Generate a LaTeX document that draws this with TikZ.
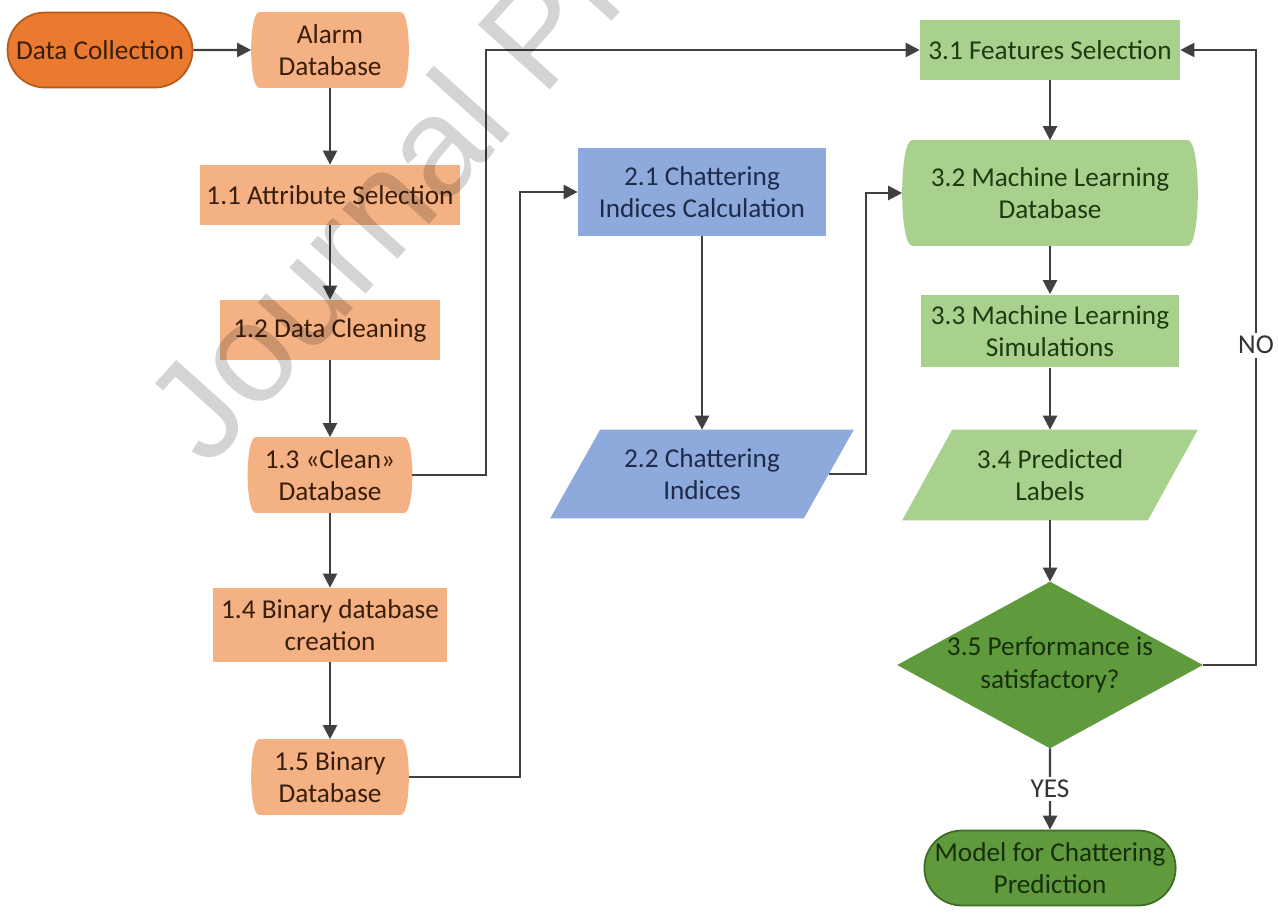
\documentclass[tikz,border=0pt]{standalone}
\usepackage{fontspec}
\setmainfont{Carlito}
\newfontfamily\markfont{Liberation Sans}
\usetikzlibrary{arrows.meta, shapes.misc, backgrounds}

\definecolor{orangefonce}{HTML}{E97A2F}
\definecolor{orangebord}{HTML}{B65A1C}
\definecolor{peche}{HTML}{F4B183}
\definecolor{bleu}{HTML}{8EA9DB}
\definecolor{vertclair}{HTML}{A9D18E}
\definecolor{vertfonce}{HTML}{5F9A3C}
\definecolor{vertbord}{HTML}{3E6B25}
\definecolor{fleche}{HTML}{404040}
\definecolor{txtorange}{HTML}{3A1E0C}
\definecolor{txtbleu}{HTML}{1E2B4A}
\definecolor{txtvert}{HTML}{1E3A10}

% Base de données : côtés gauche et droit bombés
\newcommand{\formebase}[3]{%
  \fill[#2] ([xshift=#3]#1.north west)
    .. controls ([xshift=-#3/3]#1.north west) and ([xshift=-#3/3]#1.south west) .. ([xshift=#3]#1.south west)
    -- ([xshift=-#3]#1.south east)
    .. controls ([xshift=#3/3]#1.south east) and ([xshift=#3/3]#1.north east) .. ([xshift=-#3]#1.north east)
    -- cycle;}
% Données : parallélogramme penché
\newcommand{\formepara}[3]{%
  \fill[#2] ([xshift=#3]#1.north west) -- ([xshift=#3]#1.north east)
    -- ([xshift=-#3]#1.south east) -- ([xshift=-#3]#1.south west) -- cycle;}

\tikzset{
  txt/.style={font=\fontsize{15.5}{18.5}\selectfont, align=center, inner sep=0pt},
  terminal/.style={txt, rounded rectangle, line width=1pt},
  fleche/.style={->, draw=fleche, line width=1.3pt},
  etiquette/.style={font=\fontsize{15.5}{18.5}\selectfont, fill=white, text=black!80, inner sep=2pt}
}

\begin{document}
\begin{tikzpicture}[x=0.02cm, y=-0.02cm, >={Triangle[length=8pt,width=8pt]}]
    \useasboundingbox (0,0) rectangle (1278,918);

    % Colonne 1 : collecte et préparation des données
    \node[terminal, fill=orangefonce, draw=orangebord, text=txtorange, minimum width=3.7cm, minimum height=1.5cm] (collecte) at (100,50) {Data Collection};
    \node[txt, text=txtorange, minimum width=3.14cm, minimum height=1.5cm] (alarme) at (330,50) {Alarm\\Database};
    \node[txt, fill=peche, text=txtorange, minimum width=5.2cm, minimum height=1.2cm] (attribut) at (330,195) {1.1 Attribute Selection};
    \node[txt, fill=peche, text=txtorange, minimum width=4.42cm, minimum height=1.2cm] (nettoyage) at (330,330) {1.2 Data Cleaning};
    \node[txt, text=txtorange, minimum width=3.28cm, minimum height=1.5cm] (propre) at (330,475) {1.3 «Clean»\\Database};
    \node[txt, fill=peche, text=txtorange, minimum width=4.68cm, minimum height=1.48cm] (creation) at (330,625) {1.4 Binary database\\creation};
    \node[txt, text=txtorange, minimum width=3.14cm, minimum height=1.5cm] (binaire) at (330,777) {1.5 Binary\\Database};

    % Colonne 2 : indices de chattering
    \node[txt, fill=bleu, text=txtbleu, minimum width=4.96cm, minimum height=1.76cm] (calcul) at (702,192) {2.1 Chattering\\Indices Calculation};
    \node[txt, text=txtbleu, minimum width=5.06cm, minimum height=1.76cm] (indices) at (702,474) {2.2 Chattering\\Indices};

    % Colonne 3 : apprentissage automatique
    \node[txt, fill=vertclair, text=txtvert, minimum width=5.2cm, minimum height=1.2cm] (selection) at (1050,50) {3.1 Features Selection};
    \node[txt, text=txtvert, minimum width=5.9cm, minimum height=2.1cm] (baseml) at (1050,193) {3.2 Machine Learning\\Database};
    \node[txt, fill=vertclair, text=txtvert, minimum width=5.16cm, minimum height=1.46cm] (simulation) at (1050,331) {3.3 Machine Learning\\Simulations};
    \node[txt, text=txtvert, minimum width=4.9cm, minimum height=1.8cm] (predites) at (1050,475) {3.4 Predicted\\Labels};
    \node[txt, text=txtvert!80!black, minimum width=6.1cm, minimum height=3.32cm] (perf) at (1050,665) {3.5 Performance is\\satisfactory?};
    \node[terminal, fill=vertfonce, draw=vertbord, text=txtvert!80!black, minimum width=4.8cm, minimum height=1.5cm] (modele) at (1050,868) {Model for Chattering\\Prediction};

    % Formes dessinées derrière les textes
    \begin{scope}[on background layer]
        \formebase{alarme}{peche}{0.16cm}
        \formebase{propre}{peche}{0.16cm}
        \formebase{binaire}{peche}{0.16cm}
        \formebase{baseml}{vertclair}{0.2cm}
        \formepara{indices}{bleu}{0.5cm}
        \formepara{predites}{vertclair}{0.5cm}
        \fill[vertfonce] (perf.north) -- (perf.east) -- (perf.south) -- (perf.west) -- cycle;
    \end{scope}

    % Points de passage des connecteurs
    \coordinate (coude1) at (486,475);
    \coordinate (coude2) at (520,777);
    \coordinate (coude3) at (866,474);
    \coordinate (coude4) at (1256,665);

    % Connecteurs
    \draw[fleche] (collecte) -- (alarme);
    \draw[fleche] (alarme) -- (attribut);
    \draw[fleche] (attribut) -- (nettoyage);
    \draw[fleche] (nettoyage) -- (propre);
    \draw[fleche] (propre) -- (creation);
    \draw[fleche] (creation) -- (binaire);
    \draw[fleche] (propre.east) -- (coude1) |- (selection.west);
    \draw[fleche] (binaire.east) -- (coude2) |- (calcul.west);
    \draw[fleche] (calcul) -- (indices);
    \draw[fleche] (indices.east) -- (coude3) |- (baseml.west);
    \draw[fleche] (selection) -- (baseml);
    \draw[fleche] (baseml) -- (simulation);
    \draw[fleche] (simulation) -- (predites);
    \draw[fleche] (predites) -- (perf);
    \draw[fleche] (perf.east) -- (coude4) |- node[etiquette, pos=0.26] (non) {NO} (selection.east);
    \draw[fleche] (perf) -- node[etiquette, pos=0.5] (oui) {YES} (modele);

    % Filigrane
    \begin{scope}
        \clip (0,0) rectangle (1278,918);
        \node[font=\markfont\fontsize{80}{80}\selectfont, text=black, text opacity=0.17, rotate=48, anchor=base west, inner sep=0pt] (filigrane) at (208,470) {Journal Pre-proof};
    \end{scope}

\end{tikzpicture}
\end{document}
